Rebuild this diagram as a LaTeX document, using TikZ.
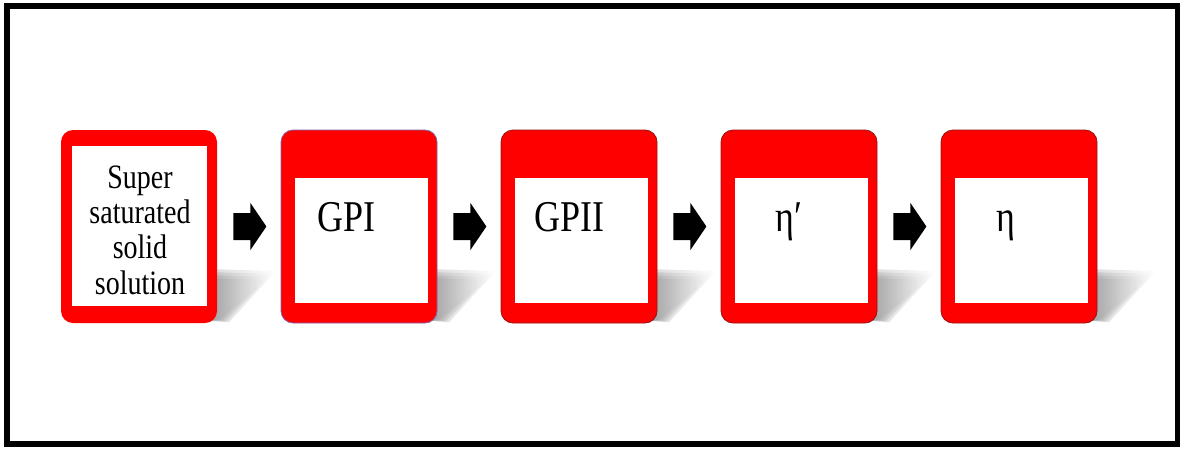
\documentclass[tikz,border=0pt]{standalone}
\usepackage{fontspec}
\setmainfont{Liberation Serif}
\usepackage{graphicx}
\usetikzlibrary{calc}
\definecolor{boxred}{RGB}{255,0,0}
\definecolor{edgepurple}{RGB}{130,100,170}
\definecolor{edgedark}{RGB}{150,20,20}
\begin{document}
\begin{tikzpicture}[x=1pt,y=-1pt,
  redbox/.style={fill=boxred, rounded corners=12pt, minimum width=156pt,
    minimum height=193pt, inner sep=0pt, line width=0.8pt},
  whitebox/.style={fill=white, inner sep=0pt, draw=none},
  shadowpart/.style={left color=black!50, right color=white, opacity=0.3},
  blockarrow/.style={fill=black},
  lbl/.style={inner sep=0pt, font=\fontsize{36}{40}\selectfont},
  etalbl/.style={inner sep=0pt, font=\fontsize{36}{40}\selectfont},
  sublbl/.style={inner sep=0pt, font=\fontsize{28}{29}\selectfont}]
\useasboundingbox (0,0) rectangle (1180,450);
\fill[white] (0,0) rectangle (1180,450);
\draw[line width=6pt] (7,5.5) rectangle (1177.5,443.5);

% box positions (coordinates only)
\coordinate (c1) at (139,226.5);
\coordinate (c2) at (359,226.5);
\coordinate (c3) at (579,226.5);
\coordinate (c4) at (799,226.5);
\coordinate (c5) at (1019,226.5);

% soft shadows (layered to blur the edges)
\foreach \i in {1,...,5}{
  \foreach \d in {-3,0,3,6}{
    \shade[shadowpart] ($(c\i)+(68,48.5-\d)$) -- ($(c\i)+(131+\d,50.5-\d)$)
       -- ($(c\i)+(84+\d,94+0.3*\d)$) -- ($(c\i)+(68,94)$) -- cycle;
  }
}

% boxes
\node[redbox] (b1) at (c1) {};
\node[redbox, draw=edgepurple] (b2) at (c2) {};
\node[redbox, draw=edgedark] (b3) at (c3) {};
\node[redbox, draw=edgedark] (b4) at (c4) {};
\node[redbox, draw=edgedark] (b5) at (c5) {};

% inner white panels
\node[whitebox, minimum width=135pt, minimum height=160pt] (w1) at ($(b1.west)+(78.5,-0.5)$) {};
\node[whitebox, minimum width=133pt, minimum height=125pt] (w2) at ($(b2.west)+(80.5,14)$) {};
\node[whitebox, minimum width=133pt, minimum height=125pt] (w3) at ($(b3.west)+(80.5,14)$) {};
\node[whitebox, minimum width=133pt, minimum height=125pt] (w4) at ($(b4.west)+(80.5,14)$) {};
\node[whitebox, minimum width=133pt, minimum height=125pt] (w5) at ($(b5.west)+(80.5,14)$) {};

% block arrows between boxes
\foreach \a/\b in {b1/b2,b2/b3,b3/b4,b4/b5}{
  \fill[blockarrow] ($(\a.east)+(16,-13.5)$) -- ++(17,0) -- ++(0,-10)
     -- ++(16,23.5) -- ++(-16,23.5) -- ++(0,-10) -- ++(-17,0) -- cycle;
}

% labels
\node[sublbl, anchor=base] (t1) at (140,188)
  {\scalebox{1}[1.22]{\begin{tabular}[t]{@{}c@{}}Super\\saturated\\solid\\solution\end{tabular}}};
\node[lbl, anchor=base west] (t2) at (317,231.5) {\scalebox{1}[1.22]{GPI}};
\node[lbl, anchor=base west] (t3) at (534,231.5) {\scalebox{1}[1.22]{GPII}};
\node[etalbl, anchor=base west] (t4) at (775,231) {\scalebox{1}[1.22]{η′}};
\node[etalbl, anchor=base west] (t5) at (996,231) {\scalebox{1}[1.22]{η}};
\end{tikzpicture}
\end{document}
